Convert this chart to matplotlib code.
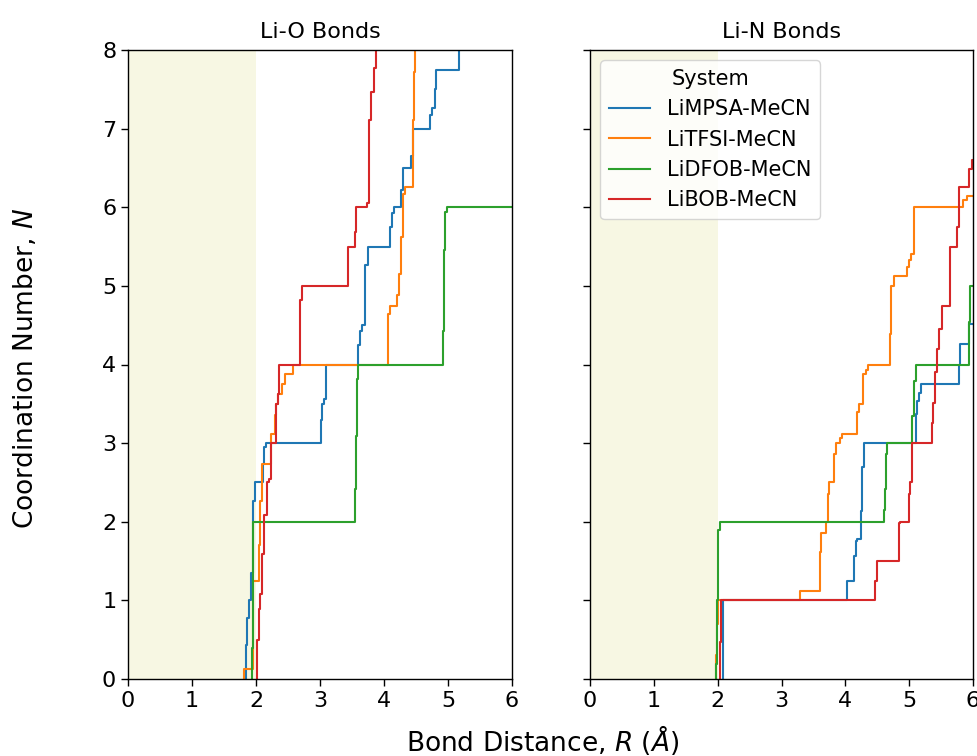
import matplotlib
matplotlib.use("Agg")
import matplotlib.pyplot as plt

systems = ["LiMPSA-MeCN", "LiTFSI-MeCN", "LiDFOB-MeCN", "LiBOB-MeCN"]
colors = ["#1f77b4", "#ff7f0e", "#2ca02c", "#d62728"]
panel_titles = ["Li-O Bonds", "Li-N Bonds"]
x_ticks = [0, 1, 2, 3, 4, 5, 6]
y_ticks = [0, 1, 2, 3, 4, 5, 6, 7, 8]

# ---- Li-O : step positions (R) and coordination number after the step (N)
lio_r_limpsa = [1.84, 1.865, 1.885, 1.92, 1.95, 1.98, 2.11, 2.13, 2.16, 3.01, 3.03, 3.06, 3.09,
                3.60, 3.63, 3.66, 3.70, 3.75, 4.10, 4.13, 4.16, 4.26, 4.29, 4.42, 4.45, 4.72,
                4.75, 4.79, 4.82, 5.17]
lio_n_limpsa = [0.43, 0.78, 1.0, 1.35, 2.27, 2.5, 2.73, 2.95, 3.0, 3.3, 3.5, 3.56, 4.0,
                4.25, 4.43, 4.5, 5.27, 5.5, 5.75, 5.93, 6.0, 6.22, 6.5, 6.65, 7.0, 7.17,
                7.26, 7.5, 7.75, 8.3]

lio_r_litfsi = [1.81, 1.95, 2.04, 2.06, 2.09, 2.23, 2.29, 2.32, 2.35, 2.41, 2.45, 2.58,
                4.07, 4.10, 4.20, 4.23, 4.26, 4.29, 4.30, 4.33, 4.45, 4.47, 4.49]
lio_n_litfsi = [0.13, 1.25, 1.7, 2.27, 2.74, 3.12, 3.36, 3.5, 3.62, 3.75, 3.88, 4.0,
                4.64, 4.75, 4.88, 5.15, 5.62, 6.0, 6.17, 6.26, 7.11, 7.72, 8.3]

lio_r_lidfob = [1.93, 1.95, 1.96, 3.55, 3.56, 3.58, 3.60, 4.92, 4.94, 4.96, 4.98]
lio_n_lidfob = [0.4, 1.9, 2.0, 2.42, 3.09, 3.81, 4.0, 4.43, 5.45, 5.94, 6.0]

lio_r_libob = [2.02, 2.04, 2.06, 2.09, 2.13, 2.17, 2.20, 2.24, 2.32, 2.34, 2.36, 2.69, 2.72,
               3.43, 3.55, 3.56, 3.74, 3.76, 3.77, 3.79, 3.84, 3.87]
lio_n_libob = [0.49, 0.89, 1.08, 1.59, 2.08, 2.5, 2.55, 3.0, 3.5, 3.62, 4.0, 4.82, 5.0,
               5.5, 5.69, 6.0, 6.05, 6.52, 7.11, 7.47, 7.77, 8.3]

# ---- Li-N
lin_r_limpsa = [2.09, 4.02, 4.14, 4.16, 4.19, 4.24, 4.26, 4.29, 5.11, 5.13, 5.15, 5.18,
                5.78, 5.80, 5.93]
lin_n_limpsa = [1.0, 1.25, 1.57, 1.76, 1.78, 2.14, 2.69, 3.0, 3.37, 3.54, 3.64, 3.75,
                4.0, 4.26, 4.52]

lin_r_litfsi = [1.98, 1.99, 2.01, 3.29, 3.60, 3.62, 3.70, 3.73, 3.75, 3.83, 3.85, 3.92, 3.95,
                4.18, 4.21, 4.27, 4.28, 4.32, 4.35, 4.70, 4.72, 4.76, 4.97, 5.00, 5.03, 5.07,
                5.85, 5.90]
lin_n_litfsi = [0.3, 0.7, 1.0, 1.12, 1.62, 1.86, 2.0, 2.35, 2.5, 2.86, 3.0, 3.07, 3.12,
                3.39, 3.5, 3.67, 3.88, 3.93, 4.0, 4.39, 5.0, 5.12, 5.24, 5.33, 5.41, 6.0,
                6.09, 6.14]

lin_r_lidfob = [1.97, 1.99, 2.01, 2.04, 4.60, 4.62, 4.63, 4.65, 5.05, 5.07, 5.10, 5.94, 5.96]
lin_n_lidfob = [0.19, 1.0, 1.9, 2.0, 2.15, 2.42, 2.86, 3.0, 3.35, 3.79, 4.0, 4.54, 5.0]

lin_r_libob = [2.04, 2.06, 4.47, 4.49, 4.84, 4.86, 5.00, 5.02, 5.05, 5.36, 5.38, 5.41,
               5.44, 5.47, 5.52, 5.64, 5.75, 5.78, 5.94, 5.98]
lin_n_libob = [0.47, 1.0, 1.25, 1.5, 1.98, 2.0, 2.35, 2.5, 3.0, 3.26, 3.51, 3.9,
               4.2, 4.45, 4.75, 5.5, 5.75, 6.26, 6.49, 6.6]

panels = [
    [(lio_r_limpsa, lio_n_limpsa), (lio_r_litfsi, lio_n_litfsi),
     (lio_r_lidfob, lio_n_lidfob), (lio_r_libob, lio_n_libob)],
    [(lin_r_limpsa, lin_n_limpsa), (lin_r_litfsi, lin_n_litfsi),
     (lin_r_lidfob, lin_n_lidfob), (lin_r_libob, lin_n_libob)],
]

W, H = 977, 756
fig = plt.figure(figsize=(W / 100, H / 100), dpi=100)
bottom = 1 - 679 / H
top = 1 - 50 / H
ax1 = fig.add_axes([128 / W, bottom, (512 - 128) / W, top - bottom])
ax2 = fig.add_axes([590 / W, bottom, (973 - 590) / W, top - bottom], sharey=ax1)
axes = [ax1, ax2]

for ax, title, data in zip(axes, panel_titles, panels):
    ax.axvspan(0, 2, color="beige", alpha=0.8, lw=0, zorder=0)
    for (r, n), lab, c in zip(data, systems, colors):
        xs = [r[0]] + list(r) + [7]
        ys = [0] + list(n) + [n[-1]]
        ax.step(xs, ys, where="post", color=c, lw=1.5, label=lab)
    ax.set_xlim(0, 6)
    ax.set_ylim(0, 8)
    ax.set_xticks(x_ticks)
    ax.set_yticks(y_ticks)
    ax.set_title(title, fontsize=16, pad=9)
    ax.tick_params(labelsize=16, length=5, width=1.0)
    for s in ax.spines.values():
        s.set_linewidth(1.0)

ax2.tick_params(labelleft=False)
leg = ax2.legend(title="System", loc="upper left", fontsize=15, title_fontsize=15)

fig.text(543 / W, 1 - 740 / H, "Bond Distance, $R$ ($\\AA$)", fontsize=19,
         ha="center", va="center")
fig.text(26 / W, 1 - 368 / H, "Coordination Number, $N$", fontsize=19,
         ha="center", va="center", rotation=90)

fig.savefig("out.png", dpi=100)
